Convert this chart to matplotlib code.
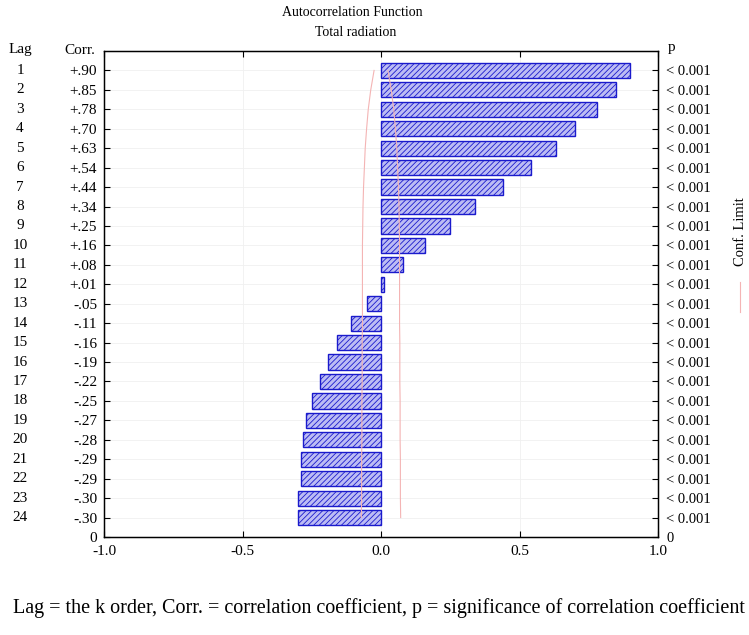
import matplotlib.pyplot as plt
from matplotlib.lines import Line2D

plt.rcParams['font.family'] = ['Liberation Serif', 'DejaVu Serif']
plt.rcParams['hatch.linewidth'] = 0.6

lags = list(range(1, 25))
corr = [0.90, 0.85, 0.78, 0.70, 0.63, 0.54, 0.44, 0.34, 0.25, 0.16, 0.08, 0.01,
        -0.05, -0.11, -0.16, -0.19, -0.22, -0.25, -0.27, -0.28, -0.29, -0.29, -0.30, -0.30]
corr_labels = ['+.90', '+.85', '+.78', '+.70', '+.63', '+.54', '+.44', '+.34', '+.25', '+.16',
               '+.08', '+.01', '-.05', '-.11', '-.16', '-.19', '-.22', '-.25', '-.27', '-.28',
               '-.29', '-.29', '-.30', '-.30']
p_labels = ['< 0.001'] * 24
# confidence limit
conf = [0.025, 0.037, 0.046, 0.052, 0.057, 0.060, 0.063, 0.065, 0.066, 0.067, 0.067, 0.067,
        0.067, 0.067, 0.068, 0.068, 0.068, 0.069, 0.069, 0.069, 0.070, 0.070, 0.070, 0.071]

fig = plt.figure(figsize=(7.49, 6.35), dpi=100)
ax = fig.add_axes([104 / 749, 1 - 537 / 635, (658 - 104) / 749, (537 - 51) / 635])

ax.barh(lags, corr, height=0.78, color='#bcbcf4', edgecolor='#1a1acc',
        hatch='//////', linewidth=1.0, zorder=3)
ax.plot(conf, lags, color='#f4b4b4', lw=0.8, zorder=4)
ax.plot([-c for c in conf], lags, color='#f4b4b4', lw=0.8, zorder=4)

ax.set_xlim(-1.0, 1.0)
ax.set_ylim(25, 0)
ax.set_xticks([-1.0, -0.5, 0.0, 0.5, 1.0])
ax.set_xticklabels(['-1.0', '-0.5', '0.0', '0.5', '1.0'], fontsize=11)
ax.set_yticks(lags + [25])
ax.set_yticklabels(corr_labels + ['0'], fontsize=11)
ax.tick_params(direction='in', length=4, top=True, width=0.8)
ax.tick_params(axis='y', pad=5)
ax.tick_params(axis='x', pad=6)
ax.grid(True, color='#f0f0f0', lw=0.6, zorder=0)
for s in ax.spines.values():
    s.set_linewidth(1.0)

ax2 = ax.twinx()
ax2.set_ylim(25, 0)
ax2.set_yticks(lags + [25])
ax2.set_yticklabels(p_labels + ['0'], fontsize=10.5)
ax2.tick_params(direction='in', length=4, width=0.8, pad=6)

# lag column
lag_x = (20 - 104) / 554
for lag in lags:
    ax.text(lag_x, lag, str(lag), transform=ax.get_yaxis_transform(),
            ha='center', va='center', fontsize=11)
fig.text(20 / 749, 1 - 50 / 635, 'Lag', ha='center', va='center', fontsize=11)
fig.text(80 / 749, 1 - 50 / 635, 'Corr.', ha='center', va='center', fontsize=11)
fig.text(668 / 749, 1 - 48 / 635, 'p', ha='left', va='center', fontsize=11)

fig.text(352 / 749, 1 - 12 / 635, 'Autocorrelation Function', ha='center', va='center', fontsize=10)
fig.text(356 / 749, 1 - 33 / 635, 'Total radiation', ha='center', va='center', fontsize=10)

# legend drawn vertically on the right
fig.text(740 / 749, 1 - 232 / 635, 'Conf. Limit', rotation=90, ha='center', va='center', fontsize=10.5)
fig.add_artist(Line2D([740 / 749, 740 / 749], [1 - 282 / 635, 1 - 312 / 635],
                      color='#f4b4b4', lw=0.8))

fig.text(379 / 749, 1 - 608 / 635,
         'Lag = the k order, Corr. = correlation coefficient, p = significance of correlation coefficient',
         ha='center', va='center', fontsize=14.5)

plt.savefig('out.png', dpi=100)
